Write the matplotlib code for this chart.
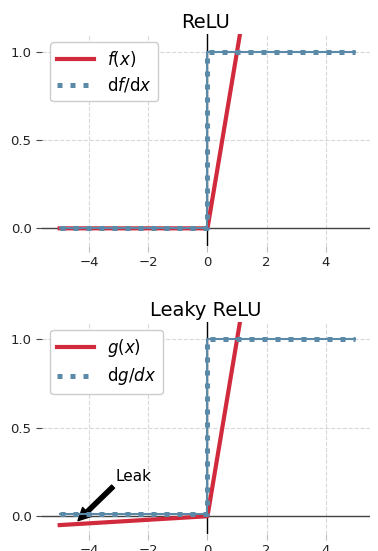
import matplotlib.pyplot as plt

# ReLU and its derivative
x_f = [-5, 0, 5]
f_vals = [0, 0, 5]
x_df = [-5, 0, 0, 5]
df_vals = [0, 0, 1, 1]

# Leaky ReLU (alpha = 0.01) and its derivative
x_g = [-5, 0, 5]
g_vals = [-0.05, 0, 5]
x_dg = [-5, 0, 0, 5]
dg_vals = [0.01, 0.01, 1, 1]

titles = ['ReLU', 'Leaky ReLU']
f_labels = ['$f(x)$', '$g(x)$']
d_labels = [r'd$f$/d$x$', r'd$g$/$dx$']

RED = '#d22a3d'
BLUE = '#5b8aa9'

fig = plt.figure(figsize=(3.78, 5.51), dpi=100)
ax1 = fig.add_axes([0.111, 0.5535, 0.868, 0.385])
ax2 = fig.add_axes([0.111, 0.031, 0.868, 0.385])

series = [
    (ax1, x_f, f_vals, x_df, df_vals),
    (ax2, x_g, g_vals, x_dg, dg_vals),
]

for i, (ax, xa, ya, xd, yd) in enumerate(series):
    ax.grid(True, linestyle='--', color='#d8d8d8', linewidth=0.8)
    ax.set_axisbelow(True)
    ax.axhline(0, color='#444444', linewidth=1.0, zorder=1)
    ax.axvline(0, color='black', linewidth=1.0, zorder=1)
    ax.plot(xa, ya, color=RED, linewidth=3, label=f_labels[i], zorder=3)
    ax.plot(xd, yd, color=BLUE, linewidth=1.5, zorder=4)
    ax.plot(xd, yd, color=BLUE, linewidth=3.6, linestyle=(0, (1, 1.6)),
            label=d_labels[i], zorder=4)
    ax.set_xlim(-5.6, 5.5)
    ax.set_ylim(-0.1, 1.1)
    ax.set_xticks([-4, -2, 0, 2, 4])
    ax.set_yticks([0.0, 0.5, 1.0])
    for s in ax.spines.values():
        s.set_visible(False)
    ax.tick_params(axis='y', colors='#444444', labelcolor='#222222',
                   labelsize=9.5, length=4, width=0.8)
    ax.tick_params(axis='x', colors='#bbbbbb', labelcolor='#222222',
                   labelsize=9.5, length=4, width=0.8)
    ax.set_title(titles[i], fontsize=14, pad=4)
    leg = ax.legend(loc='upper left', fontsize=12, handlelength=2.2,
                    borderpad=0.4, labelspacing=0.4, framealpha=1,
                    borderaxespad=0.5)
    leg.get_frame().set_edgecolor('#cccccc')

ax2.annotate('Leak', xy=(-4.38, -0.025), xytext=(-3.1, 0.2),
             fontsize=11,
             arrowprops=dict(facecolor='black', edgecolor='black',
                             width=3, headwidth=9, headlength=9, shrink=0.0))

fig.savefig('out.png', dpi=100)
